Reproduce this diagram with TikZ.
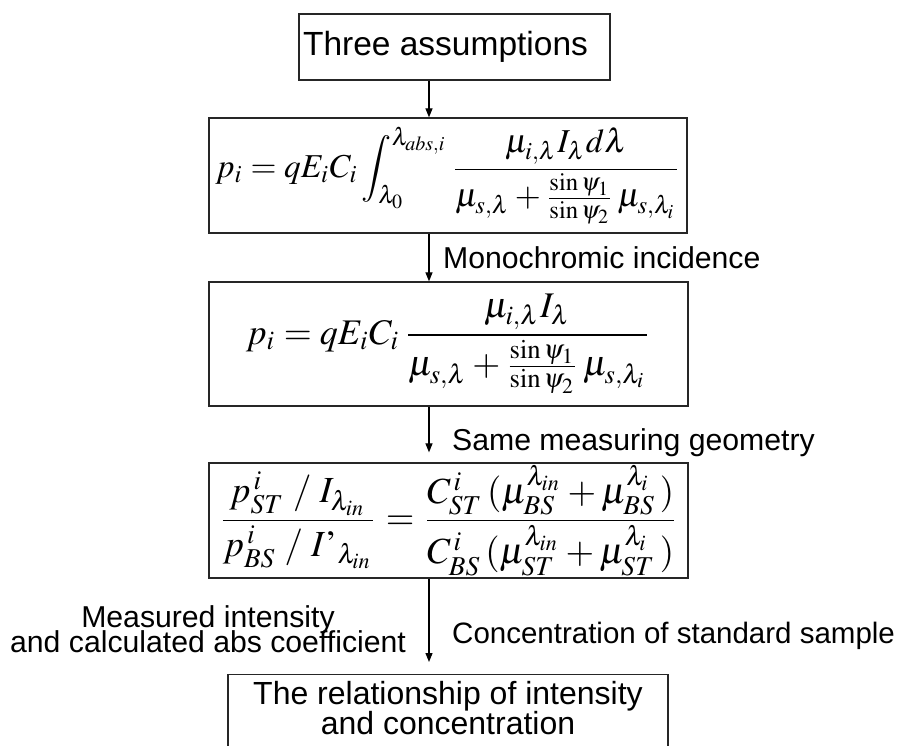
\documentclass[tikz,border=0pt]{standalone}
\usepackage{mathptmx}
\usepackage[no-math]{fontspec}
\setmainfont{Liberation Sans}
\usepackage{graphicx}
\usetikzlibrary{arrows.meta}
\newcommand{\tightlines}{\lineskiplimit -100pt\relax}
\begin{document}
\begin{tikzpicture}[x=1pt,y=1pt,
  box/.style={draw=black!85,line width=1.3pt,inner sep=0pt},
  lbl/.style={font={\fontsize{30.2}{25}\selectfont\tightlines},inner sep=0pt},
  arr/.style={line width=1.2pt,-{Triangle[length=9pt,width=7pt]}}]
\path[use as bounding box] (0,0) rectangle (908,-745);
\clip (0,0) rectangle (908,-745);
\coordinate (ax) at (429,0);
% boxes
\node[box,minimum width=311pt,minimum height=66pt,font=\fontsize{33.5}{36}\selectfont] (b1) at (454.5,-47)
 {\makebox[311pt]{\hspace{-18pt}Three assumptions}};
\node[box,minimum width=478pt,minimum height=115pt] (b2) at (448,-175.5)
 {\resizebox{465pt}{!}{$\displaystyle p_i = qE_iC_i\int_{\lambda_0}^{\lambda_{abs,i}}\frac{\mu_{i,\lambda}I_{\lambda}d\lambda}{\mu_{s,\lambda}+\frac{\sin\psi_1}{\sin\psi_2}\,\mu_{s,\lambda_i}}$}};
\node[box,minimum width=479pt,minimum height=124pt] (b3) at (448.5,-344)
 {\resizebox{405pt}{!}{$\displaystyle p_i = qE_iC_i\,\frac{\mu_{i,\lambda}I_{\lambda}}{\mu_{s,\lambda}+\frac{\sin\psi_1}{\sin\psi_2}\,\mu_{s,\lambda_i}}$}};
\node[box,minimum width=479pt,minimum height=115pt] (b4) at (448.5,-520.5)
 {\resizebox{460pt}{!}{$\displaystyle \frac{p^{\,i}_{ST}\;/\;I_{\lambda_{in}}}{p^{\,i}_{BS}\;/\;I\mathchar"0027_{\lambda_{in}}} = \frac{C^{\,i}_{ST}\,(\mu^{\lambda_{in}}_{BS}+\mu^{\lambda_i}_{BS}\,)}{C^{\,i}_{BS}\,(\mu^{\lambda_{in}}_{ST}+\mu^{\lambda_i}_{ST}\,)}$}};
\node[box,anchor=north,minimum width=440pt,inner ysep=7pt,text depth=40pt,align=center,font=\fontsize{32}{30}\selectfont] (b5) at (448,-674)
 {The relationship of intensity\\and concentration};
% arrows
\draw[arr] (b1.south -| ax) -- (b2.north -| ax);
\draw[arr] (b2.south -| ax) -- (b3.north -| ax);
\draw[arr,shorten >=10pt] (b3.south -| ax) -- (b4.north -| ax);
\draw[arr,shorten >=12pt] (b4.south -| ax) -- (b5.north -| ax);
% labels
\node[lbl,anchor=base west] (l1) at (443,-268.5) {Monochromic incidence};
\node[lbl,anchor=base west] (l2) at (452,-450) {Same measuring geometry};
\node[lbl,anchor=base west,font={\fontsize{29.5}{25}\selectfont}] (l3) at (452,-643) {Concentration of standard sample};
\node[lbl,anchor=base,align=center] (l4) at (208,-652) {Measured intensity\\and calculated abs coefficient};
\end{tikzpicture}
\end{document}
